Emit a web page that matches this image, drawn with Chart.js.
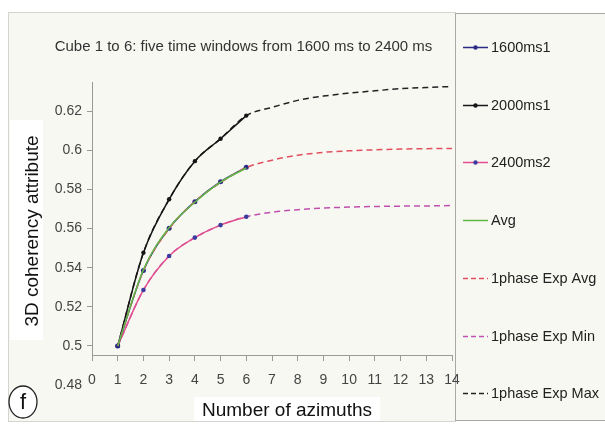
<!DOCTYPE html>
<html><head><meta charset="utf-8">
<script src="https://cdn.jsdelivr.net/npm/chart.js@4.4.1/dist/chart.umd.min.js"></script>
<style>html,body{margin:0;padding:0;background:#fff}canvas{display:block}</style>
</head><body>
<canvas id="c" width="605" height="424"></canvas>
<script>
const chartTitle = 'Cube 1 to 6: five time windows from 1600 ms to 2400 ms';
const xTitle = 'Number of azimuths';
const yTitle = '3D coherency attribute';
const panelLabel = 'f';

const measuredAzimuths = [1, 2, 3, 4, 5, 6];
const fitAzimuths = [1, 2, 3, 4, 5, 6, 7, 8, 9, 10, 11, 12, 13, 14];
const xTickLabels = ['0','1','2','3','4','5','6','7','8','9','10','11','12','13','14'];
const yTickLabels = ['0.48','0.5','0.52','0.54','0.56','0.58','0.6','0.62'];

const seriesNames = ['1600ms1', '2000ms1', '2400ms2', 'Avg', '1phase Exp Avg', '1phase Exp Min', '1phase Exp Max'];

const s1600ms1 = [0.5, 0.5386, 0.5602, 0.5738, 0.5840, 0.5914];
const s2000ms1 = [0.5, 0.5477, 0.5750, 0.5945, 0.6060, 0.6178];
const s2400ms2 = [0.5, 0.5286, 0.5460, 0.5554, 0.5618, 0.5661];
const sAvg     = [0.5, 0.5390, 0.5605, 0.5735, 0.5838, 0.5910];
const fitAvg = [0.5, 0.5385, 0.5600, 0.5738, 0.5835, 0.5912, 0.5950, 0.5975, 0.5990, 0.5998, 0.6003, 0.6007, 0.6009, 0.6010];
const fitMin = [0.5, 0.5286, 0.5460, 0.5554, 0.5618, 0.5661, 0.5684, 0.5697, 0.5705, 0.5710, 0.5713, 0.5715, 0.5716, 0.5718];
const fitMax = [0.5, 0.5477, 0.5750, 0.5945, 0.6060, 0.6178, 0.6220, 0.6256, 0.6278, 0.6293, 0.6305, 0.6316, 0.6322, 0.6327];

const FONT = "'Liberation Sans', Arial, sans-serif";
const pts = (xs, ys) => xs.map((x, i) => ({x, y: ys[i]}));

function ds(label, xs, ys, color, opts) {
  return Object.assign({
    label, data: pts(xs, ys), borderColor: color, backgroundColor: color,
    borderWidth: 1.5, pointRadius: 0, pointHoverRadius: 0,
    cubicInterpolationMode: 'monotone', fill: false
  }, opts || {});
}

const datasets = [
  ds(seriesNames[0], measuredAzimuths, s1600ms1, '#2b2b86', {order: 1, pointRadius: 2.5, pointBackgroundColor: '#2b2b86', pointBorderWidth: 0}),
  ds(seriesNames[1], measuredAzimuths, s2000ms1, '#151515', {order: 1, pointRadius: 2.2, pointBackgroundColor: '#151515', pointBorderWidth: 0}),
  ds(seriesNames[2], measuredAzimuths, s2400ms2, '#e2508f', {order: 1, pointRadius: 2.3, pointBackgroundColor: '#3b3b9e', pointBorderWidth: 0}),
  ds(seriesNames[3], measuredAzimuths, sAvg, '#62b847', {order: 0}),
  ds(seriesNames[4], fitAzimuths, fitAvg, '#e0505e', {order: 0, borderDash: [6, 4]}),
  ds(seriesNames[5], fitAzimuths, fitMin, '#c050ae', {order: 2, borderDash: [6, 4]}),
  ds(seriesNames[6], fitAzimuths, fitMax, '#222222', {order: 2, borderDash: [6, 4]})
];

const framePlugin = {
  id: 'frame',
  beforeDraw(chart) {
    const ctx = chart.ctx;
    ctx.save();
    ctx.fillStyle = '#ffffff';
    ctx.fillRect(0, 0, chart.width, chart.height);
    ctx.fillStyle = '#f8f8f3';
    ctx.fillRect(8, 12, 447, 410);
    ctx.strokeStyle = '#d4d4d0';
    ctx.lineWidth = 1;
    ctx.strokeRect(8.5, 12.5, 447, 409);
    ctx.fillStyle = '#f8f8f3';
    ctx.fillRect(455, 13, 160, 407);
    ctx.strokeStyle = '#a8a8a4';
    ctx.strokeRect(455.5, 13.5, 160, 407);
    ctx.restore();
  }
};

const decorPlugin = {
  id: 'decor',
  beforeDatasetsDraw(chart) {
    const ctx = chart.ctx, ca = chart.chartArea;
    const ys = chart.scales.y;
    const axisY = Math.round(ys.getPixelForValue(0.4953)) + 0.5;
    ctx.save();
    ctx.strokeStyle = '#999';
    ctx.lineWidth = 1;
    ctx.beginPath();
    ctx.moveTo(Math.round(ca.left) + 0.5, ca.top);
    ctx.lineTo(Math.round(ca.left) + 0.5, axisY);
    ctx.stroke();
    ctx.restore();
  },
  afterDraw(chart) {
    const ctx = chart.ctx;
    ctx.save();
    ctx.font = '19px ' + FONT;
    ctx.fillStyle = '#ffffff';
    ctx.fillRect(10, 120, 33, 220);
    ctx.translate(33, 231);
    ctx.rotate(-Math.PI / 2);
    ctx.fillStyle = '#111';
    ctx.textAlign = 'center';
    ctx.textBaseline = 'middle';
    ctx.fillText(yTitle, 0, 0);
    ctx.restore();

    ctx.save();
    ctx.font = '19px ' + FONT;
    const xw = ctx.measureText(xTitle).width;
    ctx.fillStyle = '#ffffff';
    ctx.fillRect(287 - xw / 2 - 8, 397, xw + 16, 24);
    ctx.fillStyle = '#111';
    ctx.textAlign = 'center';
    ctx.textBaseline = 'middle';
    ctx.fillText(xTitle, 287, 411);
    ctx.beginPath();
    ctx.ellipse(23, 402, 14, 16, 0, 0, Math.PI * 2);
    ctx.fillStyle = '#ffffff';
    ctx.fill();
    ctx.strokeStyle = '#222';
    ctx.lineWidth = 1.3;
    ctx.stroke();
    ctx.fillStyle = '#111';
    ctx.font = '22px ' + FONT;
    ctx.fillText(panelLabel, 23, 403);
    ctx.restore();

    ctx.save();
    ctx.font = '14.5px ' + FONT;
    ctx.textBaseline = 'middle';
    ctx.textAlign = 'left';
    chart.data.datasets.forEach((d, i) => {
      const cy = Math.round(47 + i * 57.7) + 0.5;
      ctx.save();
      ctx.strokeStyle = d.borderColor;
      ctx.lineWidth = d.borderWidth;
      ctx.setLineDash(d.borderDash ? [5, 3] : []);
      ctx.beginPath();
      ctx.moveTo(463, cy);
      ctx.lineTo(488, cy);
      ctx.stroke();
      if (d.pointRadius > 0) {
        ctx.beginPath();
        ctx.arc(475.5, cy, 2.2, 0, Math.PI * 2);
        ctx.fillStyle = d.pointBackgroundColor;
        ctx.fill();
      }
      ctx.restore();
      ctx.fillStyle = '#222';
      ctx.fillText(d.label, 491, cy);
    });
    ctx.restore();
  }
};

new Chart(document.getElementById('c'), {
  type: 'line',
  data: { datasets },
  plugins: [framePlugin, decorPlugin],
  options: {
    responsive: false,
    animation: false,
    events: [],
    layout: { padding: { left: 35, right: 153, top: 0, bottom: 39 } },
    plugins: {
      legend: { display: false },
      tooltip: { enabled: false },
      title: {
        display: true, text: chartTitle, color: '#333',
        font: { family: FONT, size: 15, weight: 'normal' },
        padding: { top: 38, bottom: 26 }
      }
    },
    scales: {
      x: {
        type: 'linear', min: 0, max: 14,
        position: { y: 0.4953 },
        grid: { drawOnChartArea: false, drawTicks: true, tickLength: 5, color: '#999' },
        border: { display: true, color: '#999' },
        ticks: {
          stepSize: 1, padding: 12, color: '#444', maxRotation: 0,
          font: { family: FONT, size: 14 },
          callback: v => xTickLabels[v] ?? ''
        }
      },
      y: {
        type: 'linear', min: 0.48, max: 0.635,
        afterFit: s => { s.width = 57; },
        grid: {
          drawOnChartArea: false, drawTicks: true, tickLength: 5,
          color: c => (c.tick && c.tick.value < 0.49) ? 'rgba(0,0,0,0)' : '#999'
        },
        border: { display: false },
        ticks: {
          stepSize: 0.02, includeBounds: false, padding: 5, color: '#444',
          font: { family: FONT, size: 14 },
          callback: v => yTickLabels.find(l => Math.abs(parseFloat(l) - v) < 1e-6) ?? ''
        }
      }
    }
  }
});
</script>
</body></html>
